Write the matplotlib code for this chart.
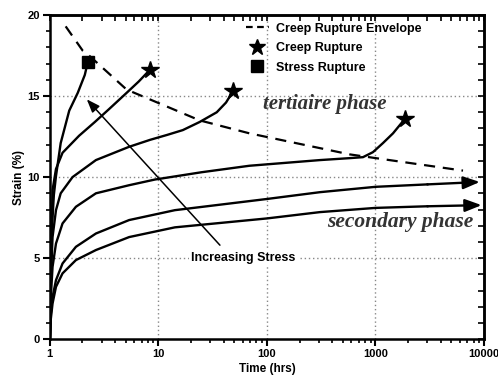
import matplotlib.pyplot as plt
from matplotlib.lines import Line2D
from matplotlib.ticker import FixedLocator, LogLocator, NullFormatter, MultipleLocator

# values (time in hrs, strain in %)
t_stress = [1, 1.02, 1.05, 1.09, 1.14, 1.26, 1.51, 1.81, 2.1, 2.24]
e_stress = [0, 4.0, 7.0, 8.9, 10.06, 12.1, 14.1, 15.2, 16.3, 17.1]

t_c2 = [1, 1.02, 1.06, 1.14, 1.31, 1.86, 2.6, 3.52, 5.2, 6.6, 8.3]
e_c2 = [0, 4.0, 9.2, 10.5, 11.5, 12.55, 13.4, 14.2, 15.25, 15.9, 16.6]

t_c3 = [1, 1.02, 1.06, 1.14, 1.26, 1.62, 2.66, 5.38, 8.4, 12, 16.8, 24, 34.5, 42, 48.7]
e_c3 = [0, 3.5, 6.3, 7.96, 9.0, 10.0, 11.05, 11.87, 12.3, 12.6, 12.9, 13.4, 14.0, 14.6, 15.3]

t_c4 = [1, 1.02, 1.06, 1.14, 1.31, 1.74, 2.66, 5.38, 9.3, 25, 69, 308, 580, 767, 948, 1172, 1450, 1870]
e_c4 = [0, 2.5, 4.46, 5.9, 7.14, 8.17, 9.0, 9.5, 9.85, 10.3, 10.7, 11.05, 11.17, 11.23, 11.54, 12.1, 12.7, 13.6]

t_c5 = [1, 1.02, 1.06, 1.14, 1.31, 1.74, 2.66, 5.38, 14.2, 100, 308, 1000, 3000, 9150]
e_c5 = [0, 1.5, 2.6, 3.64, 4.67, 5.7, 6.52, 7.35, 7.96, 8.65, 9.07, 9.4, 9.55, 9.7]

t_c6 = [1, 1.02, 1.06, 1.14, 1.31, 1.74, 2.66, 5.38, 14.2, 100, 308, 1000, 3000, 9500]
e_c6 = [0, 1.2, 2.2, 3.23, 4.06, 4.88, 5.5, 6.3, 6.9, 7.45, 7.84, 8.1, 8.2, 8.27]

t_env = [1.4, 2.01, 2.3, 5.1, 24, 69, 580, 6400]
e_env = [19.3, 17.8, 17.5, 15.4, 13.5, 12.7, 11.4, 10.4]

xticks = [1, 10, 100, 1000, 10000]
xticklabels = ['1', '10', '100', '1000', '10000']
yticks = [0, 5, 10, 15, 20]

sans = ['Liberation Sans Narrow', 'Liberation Sans', 'DejaVu Sans']

fig = plt.figure(figsize=(4.98, 3.85), dpi=100)
ax = fig.add_axes([0.100, 0.119, 0.872, 0.842])

ax.set_xscale('log')
ax.set_xlim(1, 10000)
ax.set_ylim(0, 20)

for xg in [10, 100, 1000]:
    ax.axvline(xg, color='#888888', lw=1, ls=(0, (1, 2)), zorder=0)
for yg in [5, 10, 15]:
    ax.axhline(yg, color='#888888', lw=1, ls=(0, (1, 2)), zorder=0)

lw = 1.7
ax.plot(t_stress, e_stress, color='black', lw=lw)
ax.plot(t_c2, e_c2, color='black', lw=lw)
ax.plot(t_c3, e_c3, color='black', lw=lw)
ax.plot(t_c4, e_c4, color='black', lw=lw)
ax.plot(t_c5[:-1], e_c5[:-1], color='black', lw=lw)
ax.plot(t_c6[:-1], e_c6[:-1], color='black', lw=lw)
for tt, ee in [(t_c5, e_c5), (t_c6, e_c6)]:
    ax.annotate('', xy=(tt[-1], ee[-1]), xytext=(tt[-2], ee[-2]),
                arrowprops=dict(arrowstyle='-|>,head_length=1.0,head_width=0.38',
                                color='black', lw=lw, shrinkA=0, shrinkB=0))

ax.plot(t_env, e_env, color='black', lw=1.6, ls=(0, (5, 3.5)))

ax.plot([t_c2[-1], t_c3[-1], t_c4[-1]], [e_c2[-1], e_c3[-1], e_c4[-1]],
        ls='none', marker='*', ms=13, color='black')
ax.plot([t_stress[-1]], [e_stress[-1]], ls='none', marker='s', ms=9, color='black')

# increasing stress arrow
ax.annotate('', xy=(2.19, 14.8), xytext=(36.9, 5.8),
            arrowprops=dict(arrowstyle='-|>,head_length=0.8,head_width=0.3',
                            color='black', lw=1.1, shrinkA=0, shrinkB=0))
ax.text(61, 5.0, 'Increasing Stress', ha='center', va='center', fontsize=9,
        fontweight='bold', family=sans,
        bbox=dict(facecolor='white', edgecolor='none', pad=1.5))

ax.text(91.8, 14.5, 'tertiaire phase', ha='left', va='center', fontsize=15,
        fontweight='bold', fontstyle='italic', family='Liberation Serif', color='#333333')
ax.text(357, 7.2, 'secondary phase', ha='left', va='center', fontsize=15.5,
        fontweight='bold', fontstyle='italic', family='Liberation Serif', color='#333333')

handles = [Line2D([], [], color='black', lw=1.6, ls=(0, (3, 2))),
           Line2D([], [], ls='none', marker='*', ms=12, color='black'),
           Line2D([], [], ls='none', marker='s', ms=9, color='black')]
ax.legend(handles, ['Creep Rupture Envelope', 'Creep Rupture', 'Stress Rupture'],
          loc='upper left', bbox_to_anchor=(0.435, 1.0), frameon=False,
          prop=dict(family=sans, weight='bold', size=9),
          handlelength=1.8, handletextpad=0.6, labelspacing=0.6, borderaxespad=0.2)

ax.xaxis.set_major_locator(FixedLocator(xticks))
ax.set_xticklabels(xticklabels)
ax.xaxis.set_minor_locator(LogLocator(base=10, subs=range(2, 10)))
ax.xaxis.set_minor_formatter(NullFormatter())
ax.set_yticks(yticks)
ax.yaxis.set_minor_locator(MultipleLocator(1))
ax.tick_params(which='major', direction='out', length=5, width=1.5, labelsize=8, pad=2)
ax.tick_params(which='minor', direction='out', length=3, width=1.2)
for lab in ax.get_xticklabels() + ax.get_yticklabels():
    lab.set_fontweight('bold')
    lab.set_family(sans)

top = ax.secondary_xaxis('top')
top.xaxis.set_major_locator(FixedLocator(xticks))
top.xaxis.set_minor_locator(LogLocator(base=10, subs=range(2, 10)))
top.xaxis.set_major_formatter(NullFormatter())
top.xaxis.set_minor_formatter(NullFormatter())
top.tick_params(which='both', direction='in', length=4, width=1.2)
right = ax.secondary_yaxis('right')
right.set_yticks(yticks)
right.yaxis.set_minor_locator(MultipleLocator(1))
right.set_yticklabels([])
right.tick_params(which='both', direction='in', length=4, width=1.2)

for s in ax.spines.values():
    s.set_linewidth(1.8)
top.spines['top'].set_linewidth(1.8)
right.spines['right'].set_linewidth(1.8)

ax.set_xlabel('Time (hrs)', fontsize=8.5, fontweight='bold', family=sans, labelpad=3)
ax.set_ylabel('Strain (%)', fontsize=8.5, fontweight='bold', family=sans, labelpad=2)

fig.savefig('out.png', dpi=100)
